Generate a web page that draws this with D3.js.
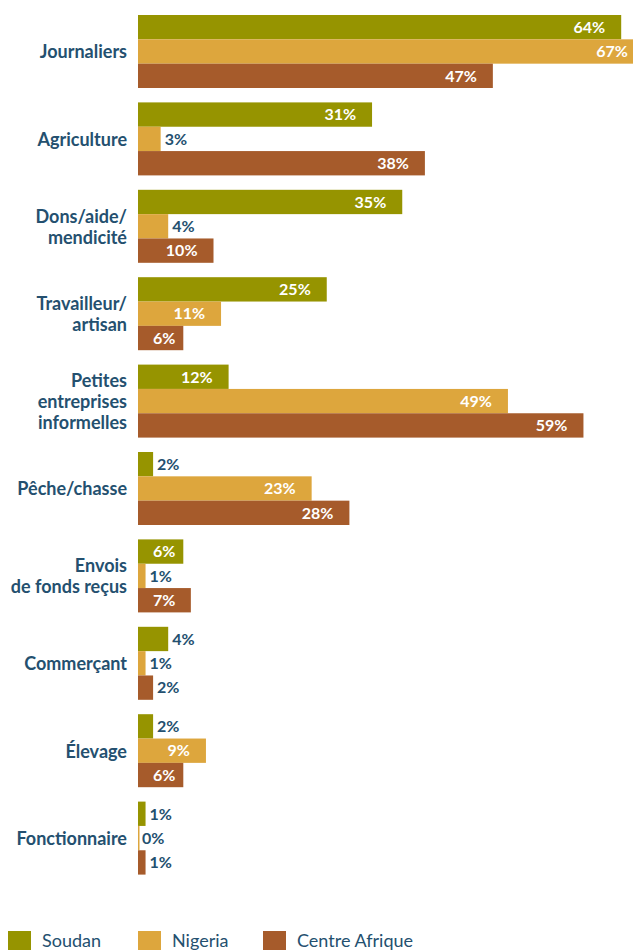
<!DOCTYPE html>
<html>
<head>
<meta charset="utf-8">
<script src="https://cdn.jsdelivr.net/npm/d3@7"></script>
<style>
  html, body { margin: 0; padding: 0; background: #fff; }
  svg { display: block; font-family: Lato, "Open Sans", sans-serif; }
</style>
</head>
<body>
<svg id="chart" width="633" height="950"></svg>
<script>
// Sources of income by population group (%)
const categories = [
  ["Journaliers"],
  ["Agriculture"],
  ["Dons/aide/", "mendicité"],
  ["Travailleur/", "artisan"],
  ["Petites", "entreprises", "informelles"],
  ["Pêche/chasse"],
  ["Envois", "de fonds reçus"],
  ["Commerçant"],
  ["Élevage"],
  ["Fonctionnaire"]
];
const seriesNames = ["Soudan", "Nigeria", "Centre Afrique"];
const soudan        = [64, 31, 35, 25, 12, 2, 6, 4, 2, 1];
const nigeria       = [67, 3, 4, 11, 49, 23, 1, 1, 9, 0];
const centreAfrique = [47, 38, 10, 6, 59, 28, 7, 2, 6, 1];
const colors = ["#969400", "#dda63d", "#a65b2b"];

const series = [soudan, nigeria, centreAfrique];
const textBlue = "#24506f";

const svg = d3.select("#chart");

const x = d3.scaleLinear().domain([0, 100]).range([138, 138 + 755]);

// each group is 73px tall, groups repeat every 87.4px
const groupTop = i => 15 + i * 87.4;
const barY = d3.scaleBand().domain(d3.range(3)).range([0, 73]).padding(0);

const rows = [];
categories.forEach((c, i) => {
  series.forEach((s, j) => rows.push({ cat: i, ser: j, value: s[i] }));
});

const g = svg.append("g");

// bars
g.selectAll("rect.bar")
  .data(rows)
  .join("rect")
  .attr("class", "bar")
  .attr("x", x(0))
  .attr("y", d => groupTop(d.cat) + barY(d.ser))
  .attr("width", d => Math.max(x(d.value) - x(0), d.value === 0 ? 1.5 : 0))
  .attr("height", barY.bandwidth())
  .attr("fill", d => colors[d.ser]);

// value labels: inside (white) for wide bars, outside (blue) for narrow ones
const labels = g.selectAll("text.val")
  .data(rows)
  .join("text")
  .attr("class", "val")
  .attr("y", d => groupTop(d.cat) + barY(d.ser) + barY.bandwidth() / 2)
  .attr("dy", "0.36em")
  .attr("font-size", 16)
  .attr("font-weight", 700)
  .text(d => d.value + "%");

labels.each(function (d) {
  const t = d3.select(this);
  const w = this.getComputedTextLength();
  const end = x(d.value);
  if (d.value >= 5) {
    const start = Math.max(x(0) + 15, end - 16 - w);
    t.attr("x", start).attr("fill", "#fff");
  } else {
    t.attr("x", end + 4).attr("fill", textBlue);
  }
});

// category labels
const catG = g.selectAll("text.cat")
  .data(categories)
  .join("text")
  .attr("class", "cat")
  .attr("text-anchor", "end")
  .attr("font-size", 18)
  .attr("font-weight", 700)
  .attr("fill", textBlue);

catG.each(function (lines, i) {
  const cy = groupTop(i) + 37;
  const lh = 21;
  const t = d3.select(this);
  lines.forEach((ln, k) => {
    t.append("tspan")
      .attr("x", 127)
      .attr("y", cy + (k - (lines.length - 1) / 2) * lh)
      .attr("dy", "0.36em")
      .text(ln);
  });
});

// legend
const legendX = [8, 138, 263];
const legend = svg.append("g");
const li = legend.selectAll("g")
  .data(seriesNames)
  .join("g")
  .attr("transform", (d, i) => `translate(${legendX[i]},931)`);
li.append("rect")
  .attr("width", 23)
  .attr("height", 23)
  .attr("fill", (d, i) => colors[i]);
li.append("text")
  .attr("x", 34)
  .attr("y", 16)
  .attr("font-size", 18)
  .attr("fill", textBlue)
  .text(d => d);
</script>
</body>
</html>
